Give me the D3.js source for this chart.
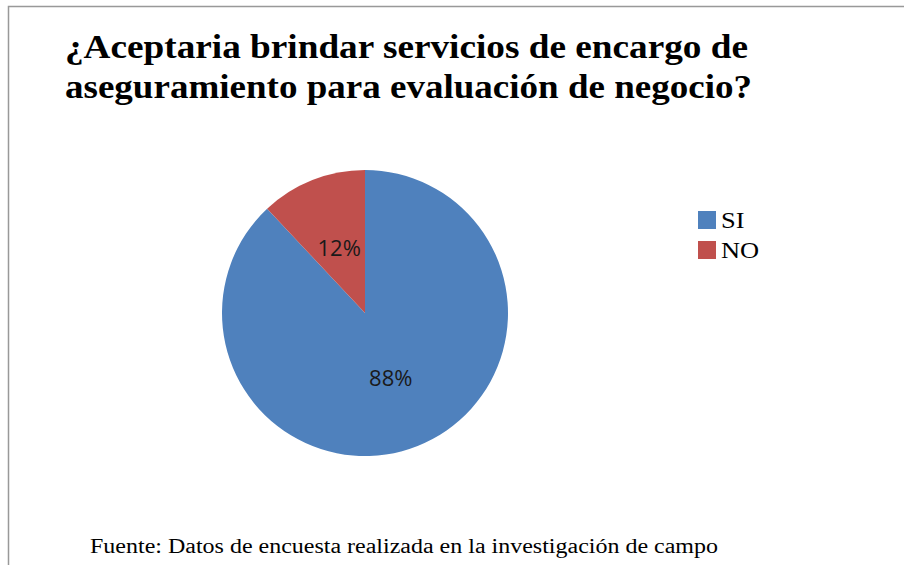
<!DOCTYPE html>
<html>
<head>
<meta charset="utf-8">
<script src="https://cdn.jsdelivr.net/npm/d3@7"></script>
<style>
  body { margin: 0; background: #fff; }
  svg { display: block; }
</style>
</head>
<body>
<div class="chart"></div>
<script>
'use strict';

const categories = ["SI", "NO"];
const values = [88, 12];
const colors = ["#4F81BD", "#C0504D"];
const titleLines = ["¿Aceptaria brindar servicios de encargo de", "aseguramiento para evaluación de negocio?"];
const sourceNote = "Fuente: Datos de encuesta realizada en la investigación de campo";

(function() {
    const width = 904, height = 565;
    const cx = 365, cy = 313, radius = 143;
    const serif = '"Liberation Serif", "Times New Roman", serif';

    const svg = d3.select('.chart').append('svg')
        .attr('width', width).attr('height', height);

    // frame (only top and left edges show in the picture)
    svg.append('path')
        .attr('d', 'M8.5,' + height + ' V6.5 H' + width)
        .attr('fill', 'none')
        .attr('stroke', '#999')
        .attr('stroke-width', 1.5);

    // title - the source text is drawn a bit wider than the font, so stretch it
    const titleWidths = [683, 687];
    svg.selectAll('.title').data(titleLines).enter()
        .append('text')
        .attr('class', 'title')
        .attr('x', 65)
        .attr('y', (d, i) => 58 + i * 40)
        .attr('font-family', serif)
        .attr('font-weight', 'bold')
        .attr('font-size', 34)
        .attr('textLength', (d, i) => titleWidths[i])
        .attr('lengthAdjust', 'spacingAndGlyphs')
        .attr('fill', '#000')
        .text(d => d);

    // pie: SI runs clockwise from 12 o'clock, NO ends up just left of it
    const pie = d3.pie().sort(null).value(d => d)
        .startAngle(0).endAngle(2 * Math.PI);
    const arcs = pie(values);
    const arc = d3.arc().innerRadius(0).outerRadius(radius);
    const labelArc = d3.arc().innerRadius(radius * 0.49).outerRadius(radius * 0.49);

    const g = svg.append('g').attr('transform', 'translate(' + cx + ',' + cy + ')');

    g.selectAll('path.slice').data(arcs).enter()
        .append('path')
        .attr('class', 'slice')
        .attr('d', arc)
        .attr('fill', (d, i) => colors[i]);

    g.selectAll('text.lbl').data(arcs).enter()
        .append('text')
        .attr('class', 'lbl')
        .attr('transform', d => 'translate(' + labelArc.centroid(d) + ')')
        .attr('text-anchor', 'middle')
        .attr('dy', '0.36em')
        .attr('font-family', '"Open Sans", "Liberation Sans", sans-serif')
        .attr('font-size', 22)
        .attr('fill', '#1a1a1a')
        .text(d => d.data + '%');

    // legend
    const legend = svg.selectAll('.legend').data(categories).enter()
        .append('g')
        .attr('class', 'legend')
        .attr('transform', (d, i) => 'translate(698,' + (211 + i * 30) + ')');

    legend.append('rect')
        .attr('width', 18).attr('height', 18)
        .attr('fill', (d, i) => colors[i]);

    legend.append('text')
        .attr('transform', 'translate(23,17) scale(1.15,1)')
        .attr('font-family', serif)
        .attr('font-size', 23)
        .attr('fill', '#000')
        .text(d => d);

    // source note
    svg.append('text')
        .attr('x', 90).attr('y', 553)
        .attr('font-family', serif)
        .attr('font-size', 20)
        .attr('textLength', 628)
        .attr('lengthAdjust', 'spacingAndGlyphs')
        .attr('fill', '#000')
        .text(sourceNote);
})();
</script>
</body>
</html>
